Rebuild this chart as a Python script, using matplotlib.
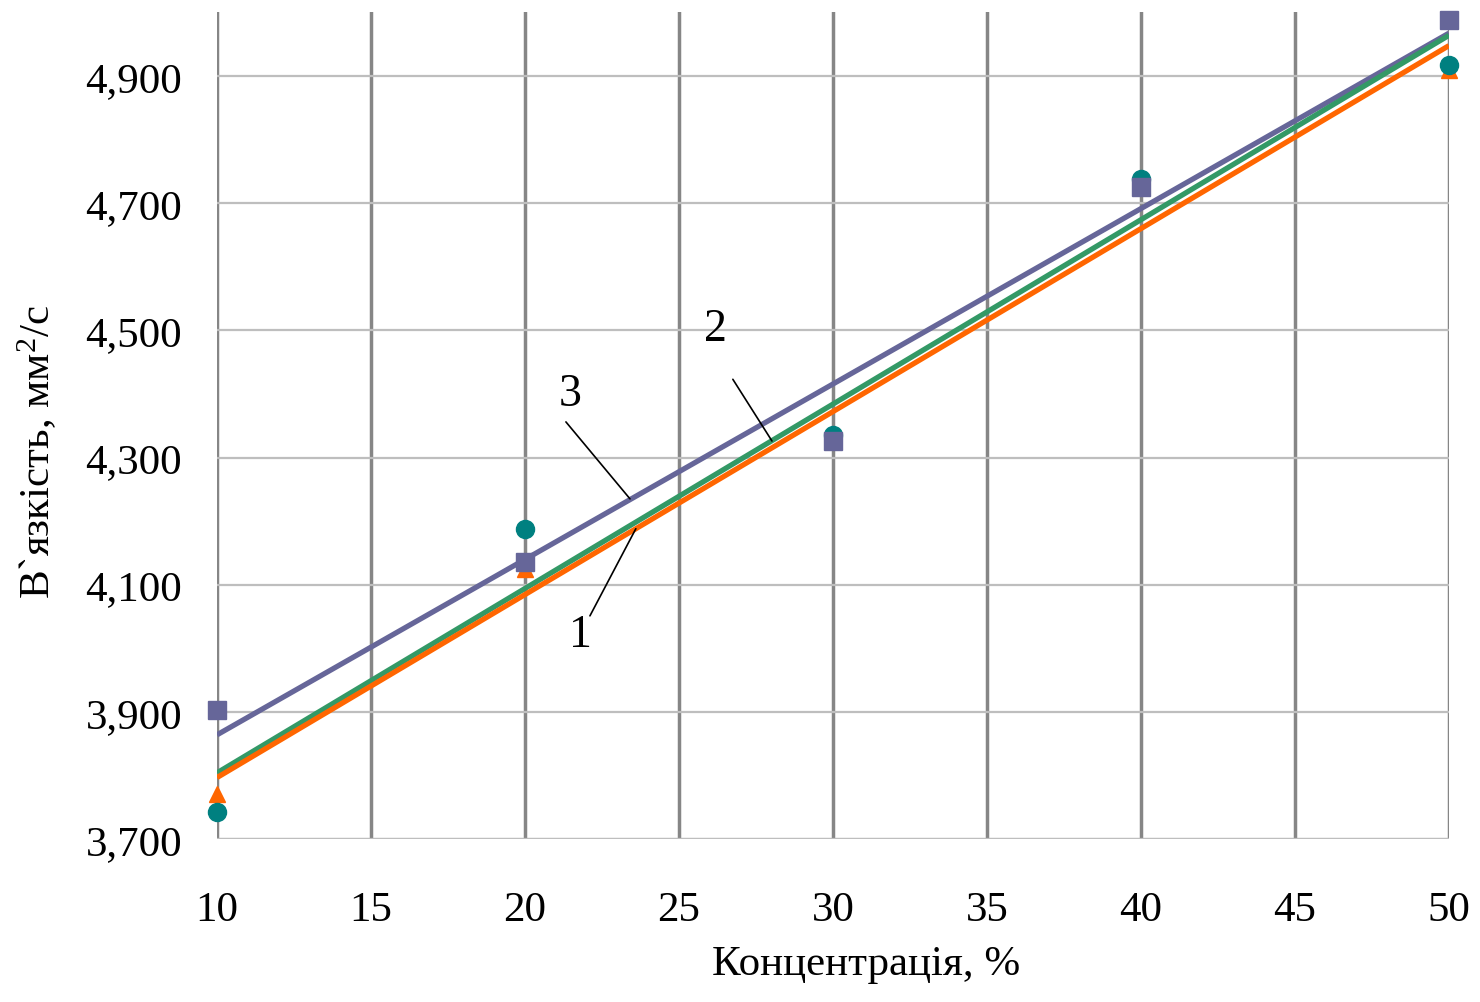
import matplotlib
matplotlib.use("Agg")
import matplotlib.pyplot as plt
from matplotlib.ticker import FuncFormatter, MultipleLocator
import numpy as np

plt.rcParams['font.family'] = ['Liberation Serif', 'DejaVu Serif']
plt.rcParams['mathtext.fontset'] = 'custom'
plt.rcParams['mathtext.rm'] = 'Liberation Serif'
plt.rcParams['mathtext.it'] = 'Liberation Serif:italic'

# concentration, %
conc = [10, 20, 30, 40, 50]
# viscosity, mm2/s
visc_1 = [3.771, 4.125, 4.330, 4.725, 4.910]   # orange triangles
visc_2 = [3.742, 4.188, 4.335, 4.738, 4.917]   # teal circles
visc_3 = [3.903, 4.136, 4.326, 4.725, 4.988]   # purple squares

fig = plt.figure(figsize=(14.8, 10.03), dpi=100)
ax = fig.add_axes([0.1466, 0.1625, 0.8324, 0.8241])

x = np.array(conc, dtype=float)
xs = np.array([x.min(), x.max()])

def trend(y):
    k, b = np.polyfit(x, y, 1)
    return k * xs + b

# trend lines
ax.plot(xs, trend(visc_3), color='#666699', lw=3.8, zorder=3, solid_capstyle='butt')
ax.plot(xs, trend(visc_2), color='#339966', lw=3.8, zorder=3, solid_capstyle='butt')
ax.plot(xs, trend(visc_1), color='#FF6600', lw=3.8, zorder=3, solid_capstyle='butt')

# markers
ax.plot(conc, visc_1, '^', color='#FF6600', ms=12, ls='none', zorder=4, clip_on=False)
ax.plot(conc, visc_2, 'o', color='#008080', ms=13, ls='none', zorder=5, clip_on=False)
ax.plot(conc, visc_3, 's', color='#666699', ms=13.5, ls='none', zorder=6, clip_on=False)

ax.set_xlim(10, 50)
ax.set_ylim(3.7, 5.0)
ax.xaxis.set_major_locator(MultipleLocator(5))
ax.set_yticks([3.7, 3.9, 4.1, 4.3, 4.5, 4.7, 4.9])
ax.yaxis.set_major_formatter(FuncFormatter(lambda v, p: f"{v:.3f}".replace('.', ',')))

ax.grid(axis='x', color='#868686', lw=2.5, zorder=1)
ax.grid(axis='y', color='#BEBEBE', lw=1.6, zorder=1)
for s in ax.spines.values():
    s.set_visible(False)
ax.axhline(3.7, color='#BEBEBE', lw=1.6, zorder=1)

ax.tick_params(axis='both', length=0, labelsize=31)
ax.tick_params(axis='x', pad=37)
ax.tick_params(axis='y', pad=25)

ax.set_xlabel('Концентрація, %', fontsize=31)
ax.xaxis.set_label_coords(0.527, -0.128)
ax.set_ylabel(r'В`язкість, мм$^{2}$/с', fontsize=31)
ax.yaxis.set_label_coords(-0.128, 0.47)

# curve labels with leader lines
line_kw = dict(arrowstyle='-', color='black', lw=1.2, shrinkA=0, shrinkB=0)
ax.annotate('', xy=(23.41, 4.235), xytext=(21.33, 4.356), arrowprops=line_kw)
ax.text(21.46, 4.400, '3', fontsize=33, ha='center', va='center')
ax.annotate('', xy=(28.02, 4.326), xytext=(26.75, 4.423), arrowprops=line_kw)
ax.text(26.17, 4.502, '2', fontsize=33, ha='center', va='center')
ax.annotate('', xy=(23.60, 4.188), xytext=(22.11, 4.051), arrowprops=line_kw)
ax.text(21.79, 4.022, '1', fontsize=33, ha='center', va='center')

fig.savefig('out.png', dpi=100)
